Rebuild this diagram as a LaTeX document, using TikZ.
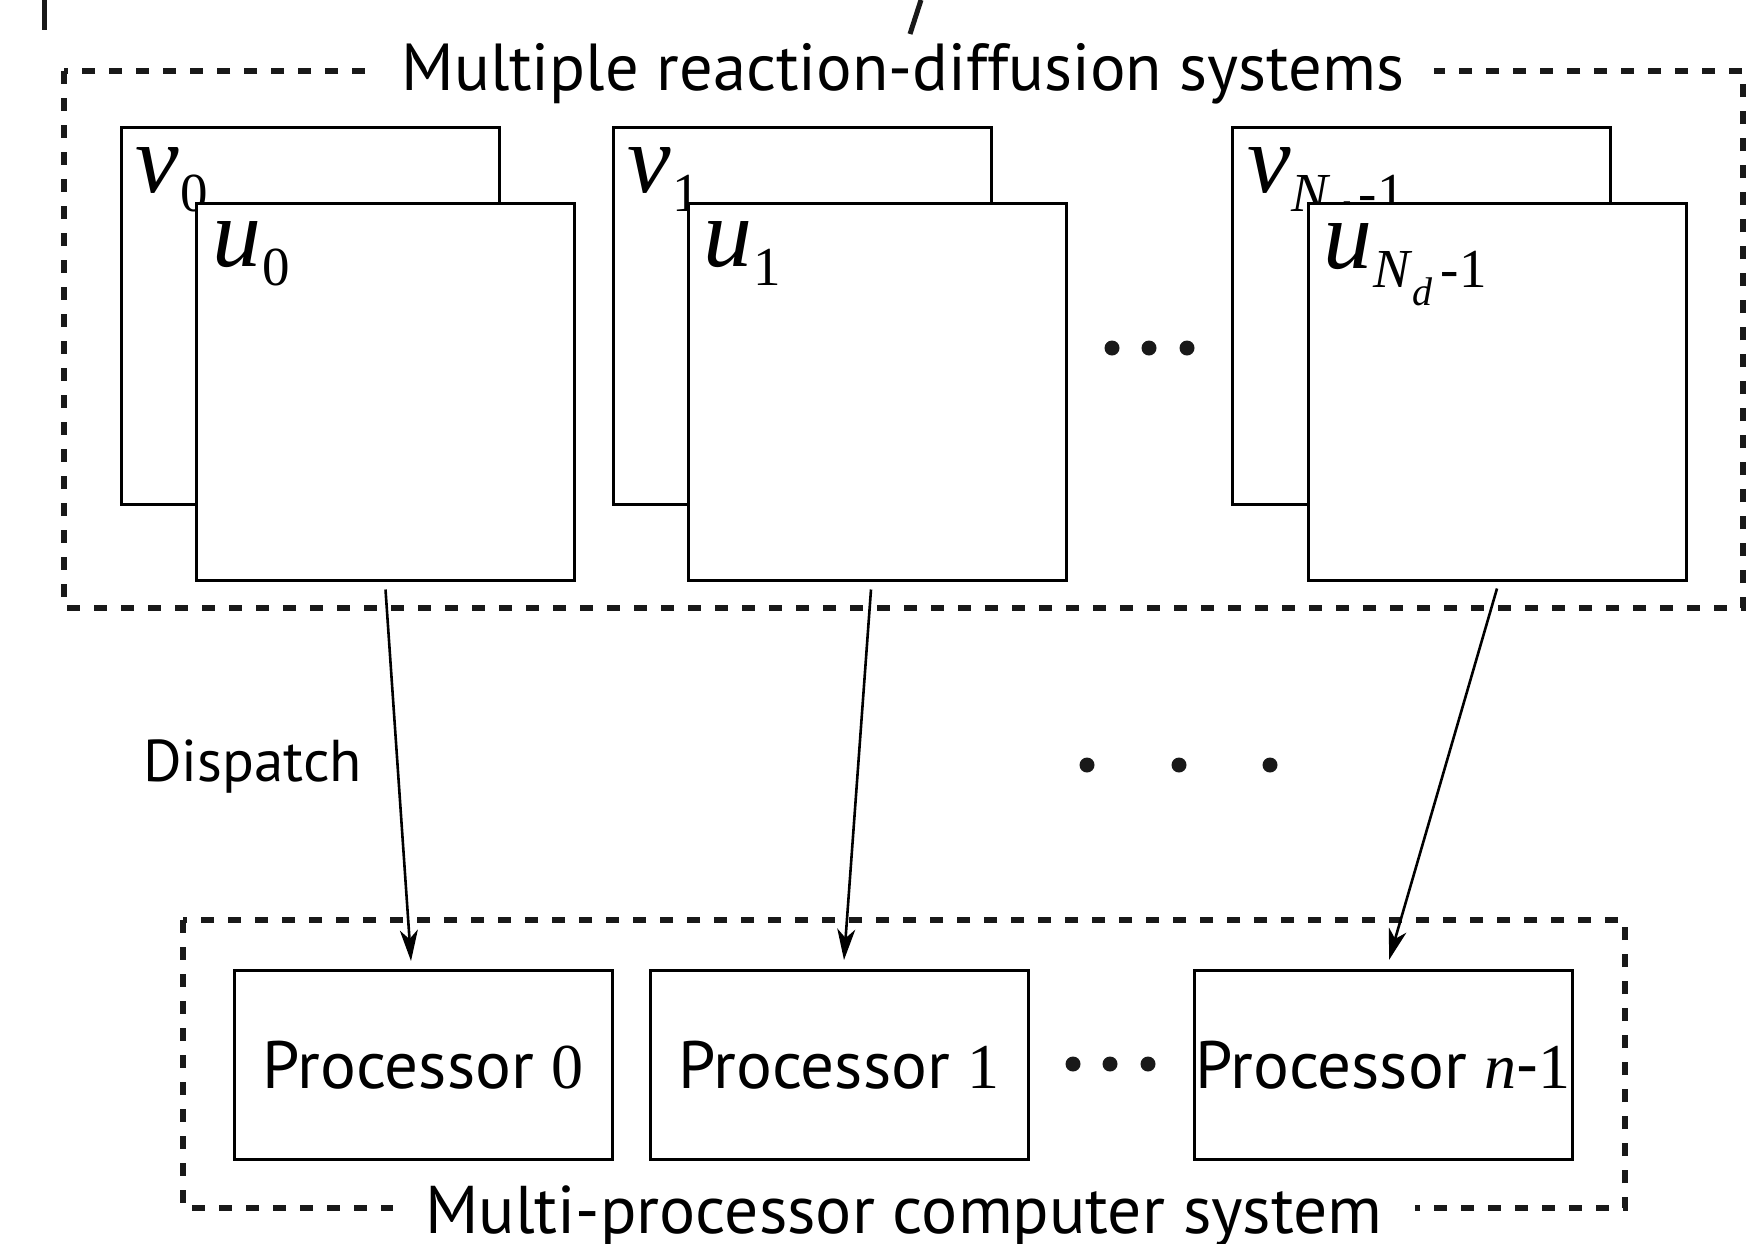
\documentclass[tikz,border=0pt]{standalone}
\usepackage{fontspec}
\setmainfont{PT Sans}
\newfontfamily\tms{Liberation Serif}
\usetikzlibrary{arrows.meta}

\tikzset{
  grid/.style={draw=black, fill=white, line width=3pt, minimum width=378pt, minimum height=377pt, inner sep=0pt},
  procbox/.style={draw=black, fill=white, line width=3pt, minimum width=378pt, minimum height=189pt, inner sep=0pt,
    font=\fontsize{67}{67}\selectfont},
  group/.style={draw=black!90, line width=5.5pt, dash pattern=on 13pt off 14pt},
  grouplabel/.style={fill=white, inner xsep=30pt, inner ysep=0pt, anchor=base},
  varlabel/.style={anchor=base west, inner sep=0pt},
  dispatch/.style={-{Stealth[length=31pt,width=18pt,inset=9pt]}, line width=2.6pt},
  dot/.style={fill=black!90}
}
% main variable with a subscript
\newcommand{\fieldvar}[2]{{\tms\fontsize{98}{98}\selectfont\itshape #1}\kern1pt\raisebox{-19pt}{\tms\fontsize{55}{55}\selectfont #2}}
\newcommand{\lastidx}{\textit{N}\raisebox{-18pt}{\fontsize{40}{40}\selectfont\itshape d}\kern8pt-1}
\newcommand{\sernum}[1]{{\tms\fontsize{64}{64}\selectfont #1}}

\begin{document}
\begin{tikzpicture}[x=1pt, y=-1pt]
\useasboundingbox (0,0) rectangle (1757,1243);

% fragments of the heading above
\fill[black!90] (42,0) rectangle (47,30);
\draw[black!90, line width=5pt] (921,0) -- (910,34);

% group frames
\draw[group] (64,71) rectangle (1743,608);
\node[grouplabel, font=\fontsize{66.5}{66.5}\selectfont] (toplabel) at (903,90) {Multiple reaction-diffusion systems};
\draw[group] (183,920) rectangle (1625,1208);
\node[grouplabel, inner xsep=32pt, font=\fontsize{67.5}{67.5}\selectfont] (botlabel) at (904,1233) {Multi-processor computer system};

% reaction-diffusion grids
\node[grid] (v0) at (310,315.5) {};
\node[varlabel] at ([xshift=16pt,yshift=-67pt]v0.north west) {\fieldvar{v}{0}};
\node[grid] (u0) at (385.5,391.5) {};
\node[varlabel] at ([xshift=17pt,yshift=-65pt]u0.north west) {\fieldvar{u}{0}};

\node[grid] (v1) at (802,315.5) {};
\node[varlabel] at ([xshift=16pt,yshift=-67pt]v1.north west) {\fieldvar{v}{1}};
\node[grid] (u1) at (877,391.5) {};
\node[varlabel] at ([xshift=17pt,yshift=-65pt]u1.north west) {\fieldvar{u}{1}};

\node[grid] (vN) at (1421.5,315.5) {};
\node[varlabel] at ([xshift=16pt,yshift=-67pt]vN.north west) {\fieldvar{v}{\lastidx}};
\node[grid] (uN) at (1497,391.5) {};
\node[varlabel] at ([xshift=17pt,yshift=-67pt]uN.north west) {\fieldvar{u}{\lastidx}};

\foreach \x in {1112,1149,1187} \fill[dot] (\x,348) circle (7.5pt);

% processors
\node[procbox] (p0) at (423,1065) {Processor \sernum{0}};
\node[procbox] (p1) at (839,1065) {Processor \sernum{1}};
\node[procbox] (pn) at (1383,1065) {Processor \sernum{\itshape n}\kern-1pt-\kern-1pt\sernum{1}};

\foreach \x in {1073,1110,1148} \fill[dot] (\x,1064) circle (7.5pt);

% dispatch arrows
\draw[dispatch] ([yshift=-8pt]u0.south) -- ([xshift=-12pt,yshift=8pt]p0.north);
\draw[dispatch] ([xshift=-6pt,yshift=-8pt]u1.south) -- ([xshift=5pt,yshift=9pt]p1.north);
\draw[dispatch] ([yshift=-7pt]uN.south) -- ([xshift=6pt,yshift=9pt]pn.north);

\node[anchor=base west, inner sep=0pt, font=\fontsize{59}{59}\selectfont] (disp) at (143,781) {Dispatch};
\foreach \x in {1087,1179,1270} \fill[dot] (\x,765) circle (7.5pt);
\end{tikzpicture}
\end{document}
